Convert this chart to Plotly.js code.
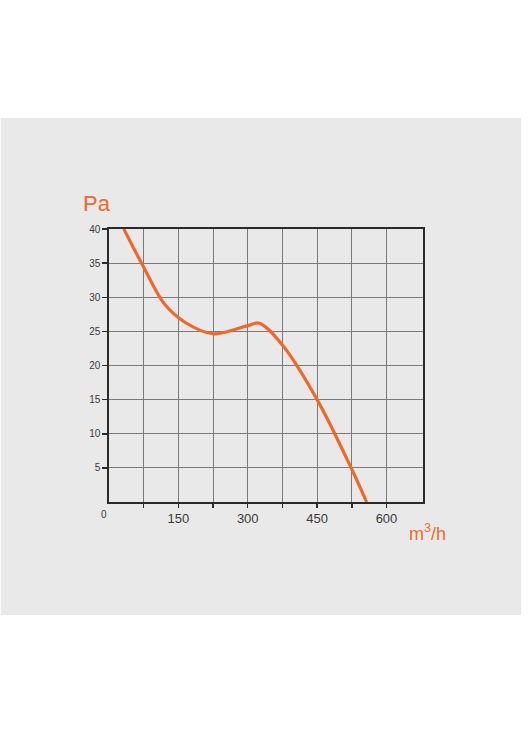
<!DOCTYPE html>
<html>
<head>
<meta charset="utf-8">
<script src="https://cdn.plot.ly/plotly-3.0.1.min.js"></script>
<style>html,body{margin:0;padding:0;background:#fff;}#chart{width:529px;height:736px;}</style>
</head>
<body>
<div id="chart"></div>
<script>
// Airflow (m³/h) vs pressure (Pa)
const flow = [32, 75, 120, 165, 225, 300, 325, 375, 450, 525, 557];
const pressure = [40, 34.4, 29.0, 26.3, 24.65, 25.85, 26.2, 23.0, 15.0, 4.8, 0];
const xTickVals = [150, 300, 450, 600];
const xTickText = ["150", "300", "450", "600"];
const xMinorVals = [75, 225, 375, 525];
const yTickVals = [5, 10, 15, 20, 25, 30, 35, 40];
const yTickText = ["5", "10", "15", "20", "25", "30", "35", "40"];

const orange = "#f0682a";
const trace = {
  x: flow, y: pressure, type: "scatter", mode: "lines",
  line: {color: orange, width: 3.2, shape: "spline", smoothing: 1.0},
  hoverinfo: "skip"
};
const layout = {
  width: 529, height: 736,
  margin: {l: 108.5, r: 105.7, t: 229.3, b: 233.7},
  paper_bgcolor: "#ffffff",
  plot_bgcolor: "#ffffff",
  showlegend: false,
  font: {family: "Liberation Sans, Arial, sans-serif", color: "#333"},
  xaxis: {
    range: [0, 679], tickmode: "array", tickvals: xTickVals, ticktext: xTickText,
    showgrid: true, gridcolor: "#7a7a7a", gridwidth: 1,
    zeroline: false, showline: true, linecolor: "#2a2a2a", linewidth: 1.6, mirror: true,
    ticks: "outside", ticklen: 4, tickwidth: 1.5, tickcolor: "#2a2a2a",
    tickfont: {size: 13, color: "#3a3a3a"},
    minor: {tickmode: "array", tickvals: xMinorVals, ticks: "outside", ticklen: 4, tickwidth: 1.5, tickcolor: "#2a2a2a",
            showgrid: true, gridcolor: "#7a7a7a", gridwidth: 1}
  },
  yaxis: {
    range: [0, 40], tickmode: "array", tickvals: yTickVals, ticktext: yTickText,
    showgrid: true, gridcolor: "#7a7a7a", gridwidth: 1,
    zeroline: false, showline: true, linecolor: "#2a2a2a", linewidth: 1.6, mirror: true,
    ticks: "outside", ticklen: 5, tickwidth: 1.5, tickcolor: "#2a2a2a",
    tickfont: {size: 10, color: "#3a3a3a"}
  },
  shapes: [
    {type: "rect", xref: "paper", yref: "paper", layer: "below",
     x0: -108.5/314.8, x1: (521.7-108.5)/314.8,
     y0: -(615.3-502.3)/273, y1: (502.3-118.3)/273,
     fillcolor: "#e9e9e9", line: {width: 0}}
  ],
  annotations: [
    {text: "Pa", xref: "paper", yref: "paper", x: (96-108.5)/314.8, y: (502.3-203.5)/273,
     showarrow: false, font: {size: 22, color: orange}, xanchor: "center", yanchor: "middle"},
    {text: "m<sup>3</sup>/h", xref: "paper", yref: "paper", x: (428-108.5)/314.8, y: (502.3-533)/273,
     showarrow: false, font: {size: 18, color: orange}, xanchor: "center", yanchor: "middle"},
    {text: "0", xref: "paper", yref: "paper", x: (103-108.5)/314.8, y: (502.3-515)/273,
     showarrow: false, font: {size: 10, color: "#3a3a3a"}, xanchor: "center", yanchor: "middle"}
  ]
};
Plotly.newPlot("chart", [trace], layout, {displayModeBar: false, staticPlot: true});
</script>
</body>
</html>
